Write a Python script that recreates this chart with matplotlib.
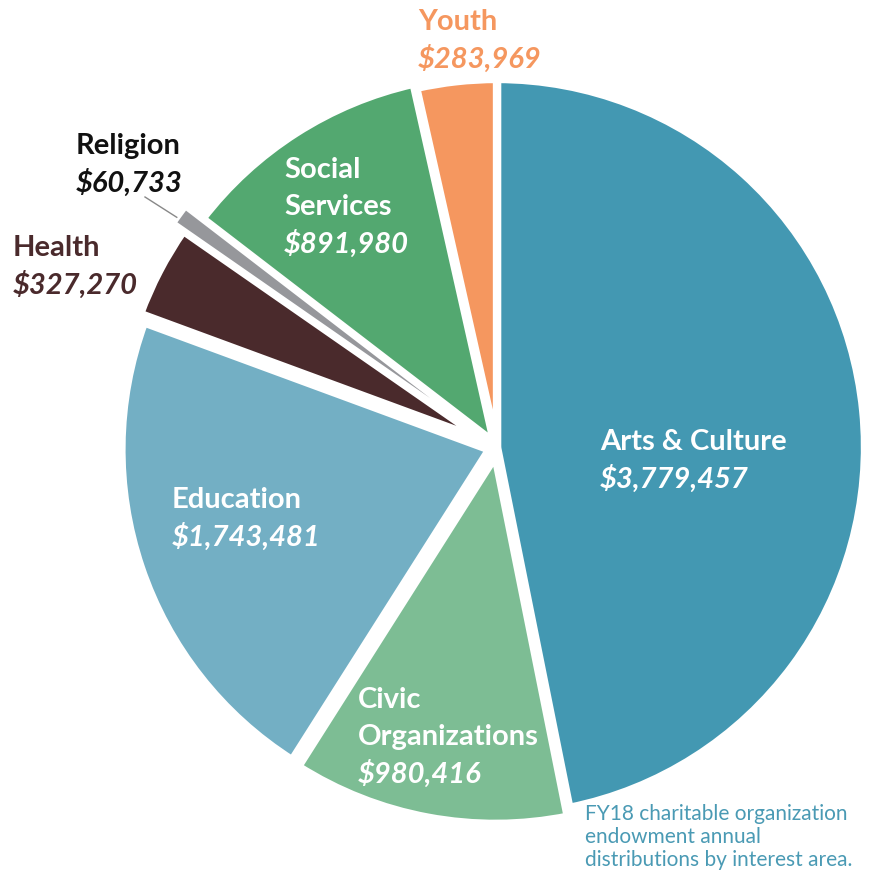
import matplotlib
matplotlib.use("Agg")
import matplotlib.pyplot as plt

categories = ["Arts & Culture", "Civic\nOrganizations", "Education", "Health", "Religion", "Social\nServices", "Youth"]
values = [3779457, 980416, 1743481, 327270, 60733, 891980, 283969]
value_labels = ["$3,779,457", "$980,416", "$1,743,481", "$327,270", "$60,733", "$891,980", "$283,969"]
colors = ["#4398b2", "#7dbd94", "#73afc4", "#4a2a2c", "#96979b", "#53a870", "#f5975f"]
caption = "FY18 charitable organization\nendowment annual\ndistributions by interest area."

plt.rcParams["font.family"] = ["Lato", "DejaVu Sans"]

W, H = 878, 875
fig = plt.figure(figsize=(W / 100, H / 100), dpi=100)
ax = fig.add_axes([0, 0, 1, 1])


def Y(y):
    return H - y


# explode offsets in pixel (data) units
explode = [0, 9, 8, 13, 24, 5, 0]
wedges, _ = ax.pie(values, colors=colors, startangle=90, counterclock=False,
                   center=(497, Y(447)), radius=368, explode=explode,
                   wedgeprops=dict(edgecolor="white", linewidth=6, joinstyle="round"))
wedges[4].set_linewidth(2.0)
wedges[4].set_zorder(5)
ax.set_xlim(0, W)
ax.set_ylim(0, H)
ax.set_aspect("equal")
ax.axis("off")

label_pos = [
    (600, 442, "white"),
    (358, 700, "white"),
    (172, 500, "white"),
    (13, 248, "#4a2a2c"),
    (76, 146, "#111111"),
    (284, 170, "white"),
    (418, 22, "#f5975f"),
]
line_h = 37
for name, val, (x, y, c) in zip(categories, value_labels, label_pos):
    lines = name.split("\n")
    for i, ln in enumerate(lines):
        ax.text(x, Y(y + i * line_h), ln, color=c, fontsize=21, fontweight="bold",
                ha="left", va="center", zorder=10)
    ax.text(x, Y(y + len(lines) * line_h), val, color=c, fontsize=21, fontweight="bold",
            fontstyle="italic", ha="left", va="center", zorder=10)

# leader line for Religion
ax.plot([145, 181], [Y(197), Y(220)], color="#888888", linewidth=1)

ax.text(585, Y(837), caption, color="#4a9ab4", fontsize=15, ha="left", va="center",
        linespacing=1.2)

fig.savefig("out.png", dpi=100)
